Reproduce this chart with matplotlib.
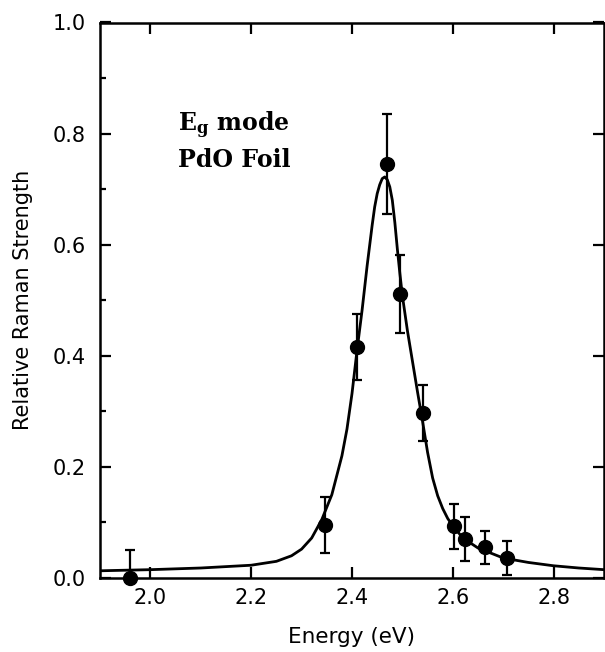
import matplotlib
matplotlib.use('Agg')
import matplotlib.pyplot as plt
from matplotlib.ticker import MultipleLocator, FormatStrFormatter

# measured Raman strengths (PdO foil, Eg mode)
energy = [1.960, 2.346, 2.409, 2.470, 2.496, 2.541, 2.603, 2.625, 2.664, 2.708]
strength = [0.000, 0.095, 0.416, 0.746, 0.511, 0.297, 0.093, 0.070, 0.055, 0.036]
err = [0.050, 0.050, 0.060, 0.090, 0.070, 0.050, 0.040, 0.040, 0.029, 0.030]

# fitted curve
fit_x = [1.90, 2.00, 2.10, 2.20, 2.25, 2.28, 2.30, 2.32, 2.34, 2.36,
         2.38, 2.39, 2.40, 2.41, 2.42, 2.43, 2.44, 2.445, 2.45, 2.455,
         2.46, 2.465, 2.47, 2.475, 2.48, 2.485, 2.49, 2.495, 2.50, 2.51,
         2.52, 2.53, 2.54, 2.55, 2.56, 2.57, 2.58, 2.59, 2.60, 2.62,
         2.65, 2.70, 2.75, 2.80, 2.85, 2.90]
fit_y = [0.013, 0.015, 0.018, 0.023, 0.030, 0.040, 0.052, 0.072, 0.105, 0.150,
         0.220, 0.268, 0.332, 0.410, 0.482, 0.562, 0.635, 0.668, 0.692, 0.708,
         0.719, 0.722, 0.717, 0.704, 0.680, 0.640, 0.592, 0.548, 0.508, 0.445,
         0.390, 0.335, 0.282, 0.226, 0.180, 0.148, 0.125, 0.107, 0.094, 0.072,
         0.054, 0.036, 0.028, 0.022, 0.018, 0.015]

plt.rcParams['font.family'] = ['DejaVu Sans']
plt.rcParams['mathtext.fontset'] = 'dejavuserif'

fig = plt.figure(figsize=(6.05, 6.52), dpi=100)
ax = fig.add_axes([100/605, 74/652, 504/605, 555.5/652])

ax.plot(fit_x, fit_y, color='black', lw=2.0)
ax.errorbar(energy, strength, yerr=err, fmt='none', ecolor='black',
            elinewidth=1.6, capsize=3.6, capthick=1.6)
ax.plot(energy, strength, 'o', color='black', ms=10, clip_on=False, zorder=5)

ax.set_xlim(1.9, 2.9)
ax.set_ylim(0, 1.0)
ax.xaxis.set_major_locator(MultipleLocator(0.2))
ax.yaxis.set_major_locator(MultipleLocator(0.2))
ax.yaxis.set_minor_locator(MultipleLocator(0.1))
ax.tick_params(which='both', direction='in', top=True, right=True, width=1.6,
               labelsize=15)
ax.tick_params(axis='x', pad=7)
ax.tick_params(axis='y', pad=10)
ax.tick_params(which='major', length=8)
ax.tick_params(which='minor', length=4, right=False)
ax.xaxis.set_major_formatter(FormatStrFormatter('%.1f'))
ax.yaxis.set_major_formatter(FormatStrFormatter('%.1f'))
for s in ax.spines.values():
    s.set_linewidth(1.8)

ax.set_xlabel('Energy (eV)', fontsize=15.5, labelpad=14)
ax.set_ylabel('Relative Raman Strength', fontsize=15, labelpad=14)

ax.text(2.054, 0.805, r'E$_{\mathbf{g}}$ mode', fontsize=17, family='DejaVu Serif',
        fontweight='bold')
ax.text(2.054, 0.740, 'PdO Foil', fontsize=17, family='DejaVu Serif',
        fontweight='bold')

fig.savefig('out.png', dpi=100)
